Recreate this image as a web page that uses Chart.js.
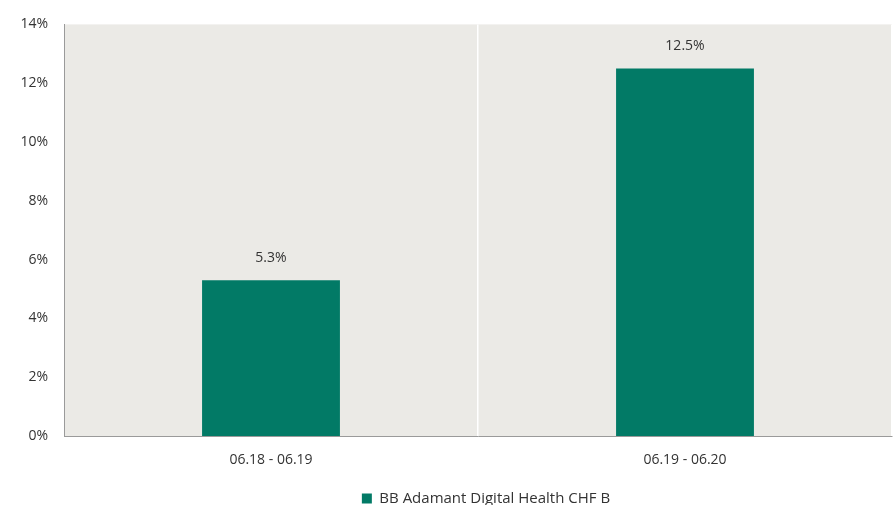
<!DOCTYPE html>
<html>
<head>
<meta charset="utf-8">
<script src="https://cdn.jsdelivr.net/npm/chart.js@4"></script>
<style>
html,body{margin:0;padding:0;background:#fff;}
#wrap{width:895px;height:505px;}
</style>
</head>
<body>
<div id="wrap"><canvas id="c" width="895" height="505"></canvas></div>
<script>
const categories = ["06.18 - 06.19", "06.19 - 06.20"];
const seriesName = "BB Adamant Digital Health CHF B";
const seriesValues = [5.3, 12.5];
const yTicks = [0, 2, 4, 6, 8, 10, 12, 14];

const FONT = "'Open Sans', 'Noto Sans', sans-serif";
const TEXT = "#333333";

const bgPlugin = {
  id: 'bg',
  beforeDraw(chart) {
    const {ctx, chartArea: a} = chart;
    ctx.save();
    ctx.fillStyle = '#ebeae6';
    ctx.fillRect(a.left, a.top, a.right - a.left, a.bottom - a.top);
    ctx.restore();
  }
};

const legendShift = {
  id: 'legendShift',
  afterLayout(chart) {
    const l = chart.legend;
    if (!l) return;
    l.left += 40; l.right += 40;
    l.top += 11; l.bottom += 11;
  }
};

const labelPlugin = {
  id: 'vlabels',
  afterDatasetsDraw(chart) {
    const {ctx} = chart;
    const meta = chart.getDatasetMeta(0);
    ctx.save();
    ctx.font = "14px " + FONT;
    ctx.fillStyle = TEXT;
    ctx.textAlign = 'center';
    ctx.textBaseline = 'middle';
    meta.data.forEach((bar, i) => {
      const v = chart.data.datasets[0].data[i];
      ctx.fillText(v.toFixed(1) + '%', bar.x, bar.y - 22);
    });
    ctx.restore();
  }
};

new Chart(document.getElementById('c'), {
  type: 'bar',
  data: {
    labels: categories,
    datasets: [{
      label: seriesName,
      data: seriesValues,
      backgroundColor: '#027a66',
      borderWidth: 0,
      categoryPercentage: 1,
      barPercentage: 0.333
    }]
  },
  options: {
    responsive: false,
    animation: false,
    devicePixelRatio: 1,
    layout: { padding: { top: 24, right: 3, left: 0, bottom: 0 } },
    plugins: {
      legend: {
        position: 'bottom',
        labels: {
          font: { family: FONT, size: 15 },
          color: TEXT,
          boxWidth: 10,
          boxHeight: 10,
          padding: 10
        }
      },
      tooltip: { enabled: false }
    },
    scales: {
      x: {
        grid: { color: '#ffffff', lineWidth: 1.5, drawTicks: false },
        border: { color: '#9a9a9a', width: 1 },
        ticks: { font: { family: FONT, size: 14 }, color: TEXT, padding: 16 },
        afterFit(axis) { axis.height = 34; }
      },
      y: {
        min: 0, max: 14,
        afterBuildTicks(axis) { axis.ticks = yTicks.map(v => ({value: v})); },
        grid: { display: false, drawTicks: false },
        border: { color: '#9a9a9a', width: 1 },
        ticks: {
          font: { family: FONT, size: 14 }, color: TEXT, padding: 16,
          callback: v => v + '%'
        },
        afterFit(axis) { axis.width = 64; }
      }
    }
  },
  plugins: [bgPlugin, legendShift, labelPlugin]
});
</script>
</body>
</html>
